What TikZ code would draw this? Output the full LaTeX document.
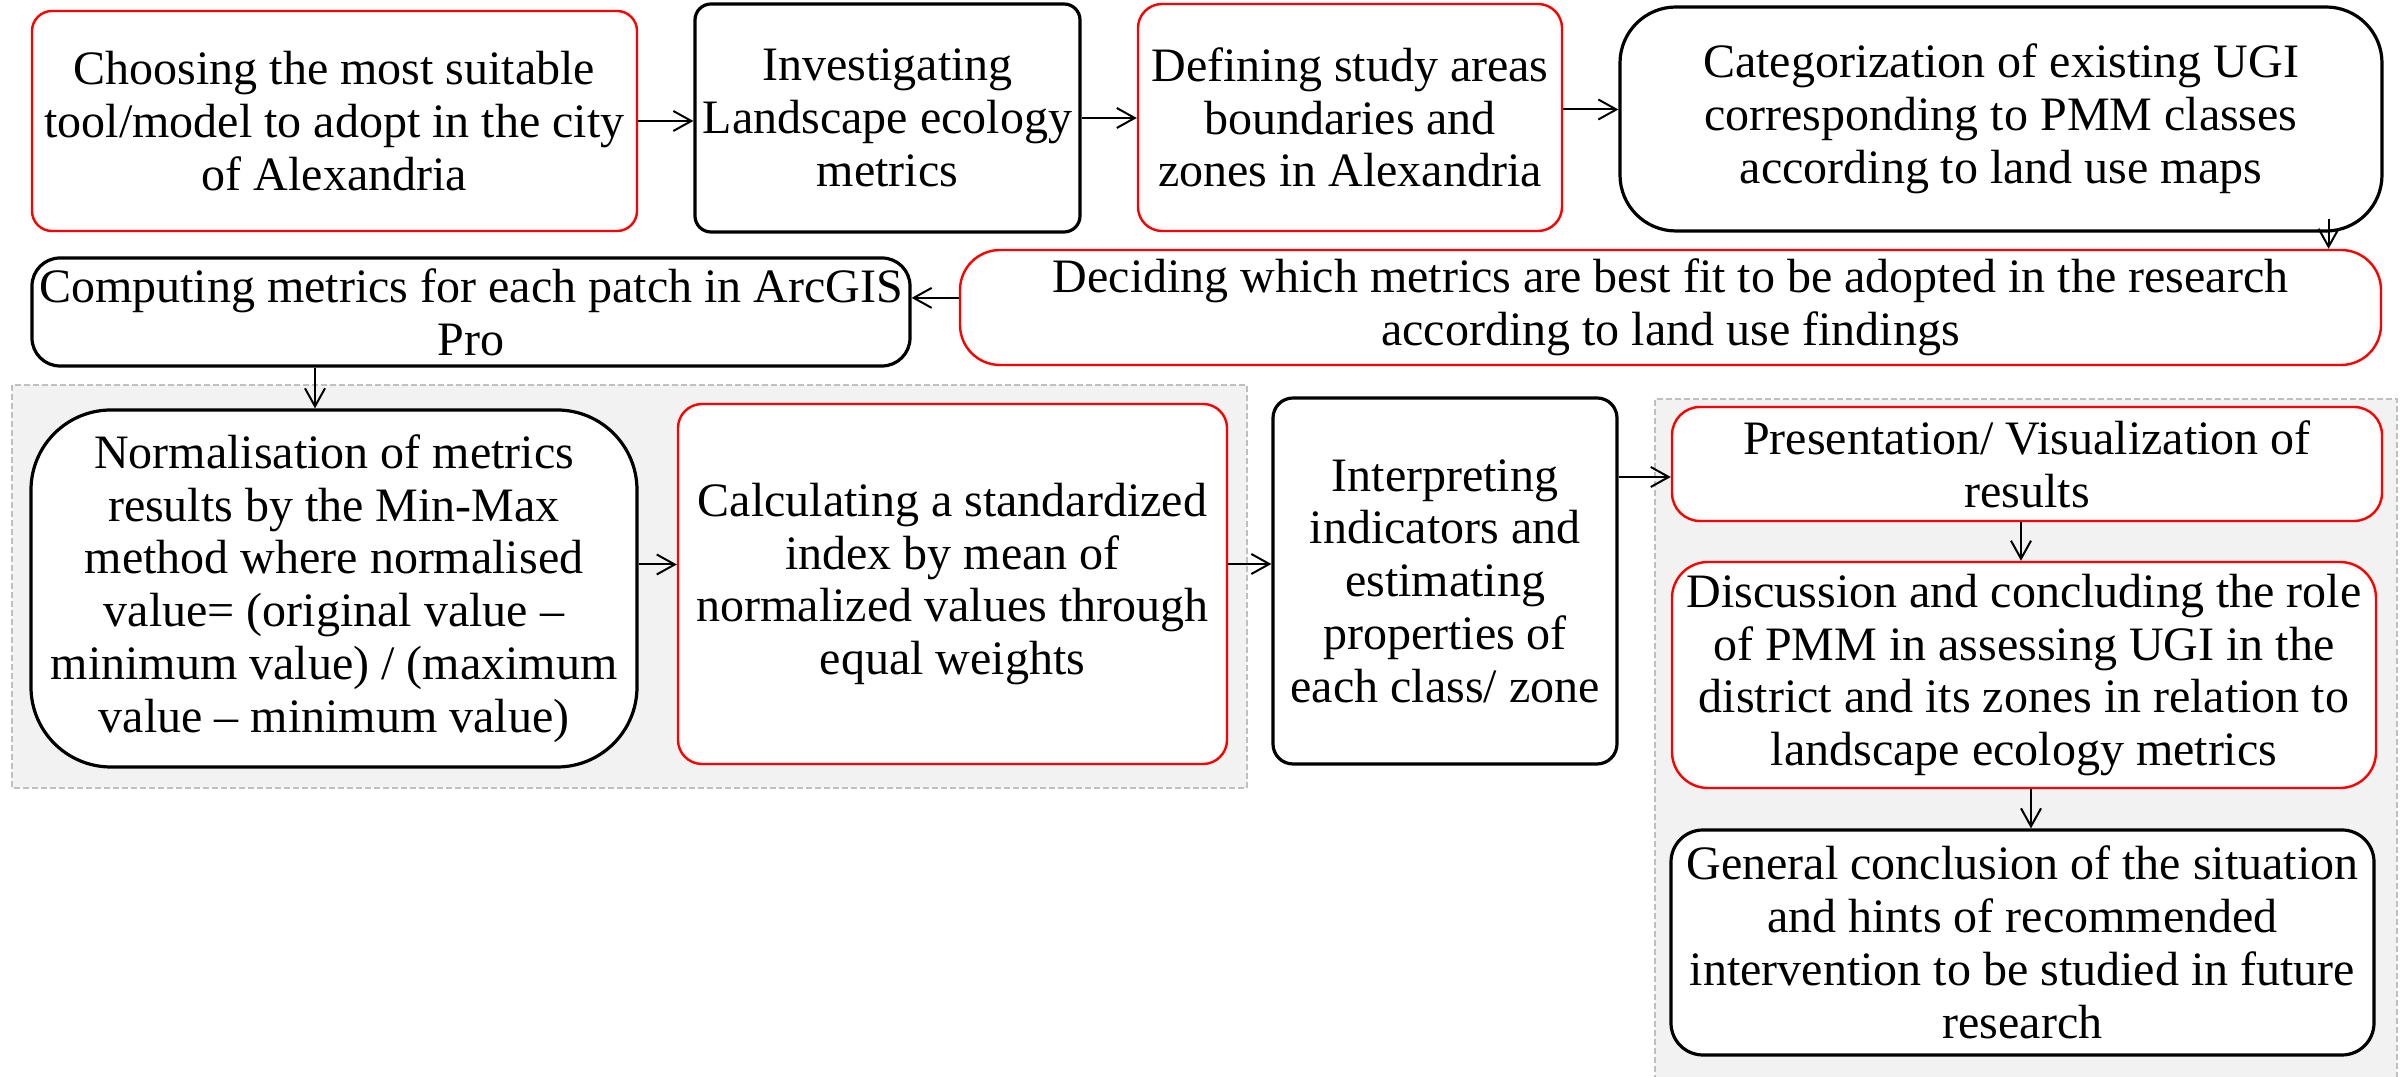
\documentclass[tikz,border=0pt]{standalone}
\usepackage{fontspec}
\setmainfont{Liberation Serif}
\usetikzlibrary{arrows.meta,calc}
\definecolor{panelgray}{HTML}{F2F2F2}
\definecolor{dashgray}{HTML}{BFBFBF}
\begin{document}
\begin{tikzpicture}[x=0.25pt,y=-0.25pt,
        box/.style={align=center,inner sep=1pt,fill=white,font=\fontsize{12}{13.2}\selectfont},
        blackbox/.style={box,draw=black,line width=0.8pt},
        redbox/.style={box,draw=red,line width=0.6pt},
        arr/.style={-{Straight Barb[length=4.5pt,width=5pt]},line width=0.5pt},
        panel/.style={draw=dashgray,line width=0.6pt,dash pattern=on 1.5pt off 0.75pt}]
    \useasboundingbox (0,0) rectangle (2402,1077);
    % shaded groups
    \fill[panelgray] (12,385) rectangle (1247,788);
    \draw[panel] (12,385) rectangle (1247,788);
    \fill[panelgray] (1655,399) rectangle (2397,1090);
    \draw[panel] (1655,1090) -- (1655,399) -- (2397,399) -- (2397,1090);
    % first row
    \node[redbox,minimum width=151.25pt,minimum height=55pt,rounded corners=5pt] (choose) at (334.5,121)
        {Choosing the most suitable\\tool/model to adopt in the city\\of Alexandria};
    \node[blackbox,minimum width=96.25pt,minimum height=57pt,rounded corners=4pt] (landscape) at (887.5,118)
        {Investigating\\Landscape ecology\\metrics};
    \node[redbox,minimum width=106pt,minimum height=56.75pt,rounded corners=6pt] (studyarea) at (1350,117.5)
        {Defining study areas\\boundaries and\\zones in Alexandria};
    \node[blackbox,minimum width=190.5pt,minimum height=56pt,rounded corners=14pt] (categorize) at (2001,119)
        {Categorization of existing UGI\\corresponding to PMM classes\\according to land use maps};
    % second row
    \node[blackbox,minimum width=219.5pt,minimum height=27pt,rounded corners=7pt] (compute) at (471,312)
        {Computing metrics for each patch in ArcGIS\\Pro};
    \node[redbox,minimum width=355.25pt,minimum height=28.75pt,rounded corners=10pt] (decide) at (1670.5,307.5)
        {Deciding which metrics are best fit to be adopted in the research\\according to land use findings};
    % third row
    \node[blackbox,minimum width=151.5pt,minimum height=89.25pt,rounded corners=20pt] (normalise) at (334,588.5)
        {Normalisation of metrics\\results by the Min-Max\\method where normalised\\value= (original value –\\minimum value) / (maximum\\value – minimum value)};
    \node[redbox,minimum width=137.25pt,minimum height=90pt,rounded corners=6pt] (standard) at (952.5,584)
        {Calculating a standardized\\index by mean of\\normalized values through\\equal weights};
    \node[blackbox,minimum width=86pt,minimum height=91.5pt,rounded corners=5pt] (interpret) at (1445,581)
        {Interpreting\\indicators and\\estimating\\properties of\\each class/ zone};
    % right column
    \node[redbox,minimum width=177.5pt,minimum height=28.5pt,rounded corners=7pt] (present) at (2027,464)
        {Presentation/ Visualization of\\results};
    \node[redbox,minimum width=176pt,minimum height=56.5pt,rounded corners=9pt] (discuss) at (2024,675)
        {Discussion and concluding the role\\of PMM in assessing UGI in the\\district and its zones in relation to\\landscape ecology metrics};
    \node[blackbox,minimum width=175.75pt,minimum height=56.25pt,rounded corners=8pt] (conclude) at (2022.5,942.5)
        {General conclusion of the situation\\and hints of recommended\\intervention to be studied in future\\research};
    % connectors
    \foreach \a/\b in {choose/landscape,landscape/studyarea} {
        \draw[arr] (\a.east) -- (\a.east -| \b.west);
    }
    \draw[arr] ([yshift=2pt]studyarea.east) -- ([yshift=2pt]studyarea.east -| categorize.west);
    \coordinate (down) at ($(categorize.south east)+(-55,-14)$);
    \draw[arr] (down) -- (down |- decide.north);
    \draw[arr] ([yshift=2.4pt]decide.west) -- ([yshift=2.4pt]decide.west -| compute.east);
    \draw[arr] ([xshift=-4.75pt]normalise.north |- compute.south) -- ([xshift=-4.75pt]normalise.north);
    \draw[arr] ([yshift=6pt]normalise.east) -- ([yshift=6pt]normalise.east -| standard.west);
    \draw[arr] ([yshift=5pt]standard.east) -- ([yshift=5pt]standard.east -| interpret.west);
    \draw[arr] ([yshift=-3.25pt]present.west -| interpret.east) -- ([yshift=-3.25pt]present.west);
    \draw[arr] ([xshift=-1.5pt]present.south) -- ([xshift=-1.5pt]present.south |- discuss.north);
    \draw[arr] ([xshift=1.75pt]discuss.south) -- ([xshift=1.75pt]discuss.south |- conclude.north);
\end{tikzpicture}
\end{document}
